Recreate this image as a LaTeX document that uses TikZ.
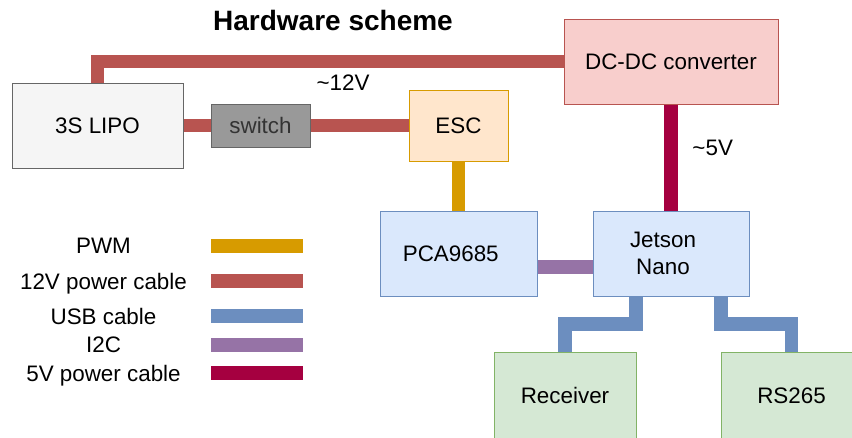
\documentclass[tikz,border=0pt]{standalone}
\usepackage{fontspec}
\setmainfont{Liberation Sans}
\usetikzlibrary{calc}
\definecolor{cRed}{HTML}{B85450}
\definecolor{cPWM}{HTML}{D79B00}
\definecolor{cUSB}{HTML}{6C8EBF}
\definecolor{cI2C}{HTML}{9673A6}
\definecolor{cFive}{HTML}{A50040}
\definecolor{fGray}{HTML}{F5F5F5}
\definecolor{bGray}{HTML}{666666}
\definecolor{fSwitch}{HTML}{999999}
\definecolor{tSwitch}{HTML}{333333}
\definecolor{fRed}{HTML}{F8CECC}
\definecolor{fOrange}{HTML}{FFE6CC}
\definecolor{fBlue}{HTML}{DAE8FC}
\definecolor{fGreen}{HTML}{D5E8D4}
\definecolor{bGreen}{HTML}{82B366}
\begin{document}
\begin{tikzpicture}[x=1pt,y=-1pt,
  box/.style={draw, line width=1pt, rectangle, inner sep=0pt, align=center,
    font=\fontsize{22.4}{27.5}\selectfont, text height=16pt, text depth=0pt},
  wire/.style={line width=13.5pt, line join=miter, line cap=butt},
  lbl/.style={anchor=base, inner sep=0pt, font=\fontsize{22.4}{28}\selectfont}
]
\useasboundingbox (0,0) rectangle (852,437);
\clip (0,0) rectangle (852,437);
\fill[white] (0,0) rectangle (852,437);

% title
\node[anchor=base, inner sep=0pt, font=\fontsize{28}{32}\selectfont\bfseries] (title) at (333,30.7) {Hardware scheme};

% boxes
\node[box, fill=fGray, draw=bGray, minimum width=171pt, minimum height=85pt] (lipo) at (97.5,125.5) {3S LIPO};
\node[box, fill=fSwitch, draw=bGray, text=tSwitch, minimum width=99pt, minimum height=43pt] (switch) at (260.5,125.5) {switch};
\node[box, fill=fOrange, draw=cPWM, minimum width=99pt, minimum height=71pt] (esc) at (458.5,125.5) {ESC};
\node[box, fill=fRed, draw=cRed, minimum width=214pt, minimum height=85pt] (dcdc) at (671,61.5) {DC-DC converter};
\node[box, fill=fBlue, draw=cUSB, minimum width=157pt, minimum height=85pt] (pca) at (458.5,253.5) {PCA9685\hspace*{15.5pt}};
\node[box, fill=fBlue, draw=cUSB, minimum width=156pt, minimum height=85pt, text height=, text depth=] (jetson) at (671,253.5) {Jetson\hspace*{16pt}\\Nano\hspace*{16pt}};
\node[box, fill=fGreen, draw=bGreen, minimum width=142pt, minimum height=86pt] (recv) at (565,395) {Receiver};
\node[box, fill=fGreen, draw=bGreen, minimum width=141pt, minimum height=86pt] (rs) at (791.5,395) {RS265};

% wires
\draw[wire, cRed] (lipo.east) -- (switch.west);
\draw[wire, cRed] (switch.east) -- (esc.west);
\draw[wire, cRed] (lipo.north) |- (dcdc.west);
\draw[wire, cPWM] (esc.south) -- (pca.north);
\draw[wire, cFive] (dcdc.south) -- (jetson.north);
\draw[wire, cI2C] ([yshift=-13.5pt]pca.east) -- ([yshift=-13.5pt]jetson.west);
\coordinate (u1) at (565,324);
\coordinate (u2) at (791.5,324);
\draw[wire, cUSB] ([xshift=-35pt]jetson.south) |- (u1) -- (recv.north);
\draw[wire, cUSB] ([xshift=50pt]jetson.south) |- (u2) -- (rs.north);

% voltage labels
\node[lbl] (v12) at (343,90.7) {\textasciitilde12V};
\node[lbl] (v5) at (712.7,155) {\textasciitilde5V};

% legend
\node[lbl] (lg1) at (103.5,253.3) {PWM};
\node[lbl] (lg2) at (103.5,289.3) {12V power cable};
\node[lbl] (lg3) at (103.5,324) {USB cable};
\node[lbl] (lg4) at (103.5,352.7) {I2C};
\node[lbl] (lg5) at (103.5,381.7) {5V power cable};
\draw[wire, cPWM] (211,246) -- (303,246);
\draw[wire, cRed] (211,281) -- (303,281);
\draw[wire, cUSB] (211,316) -- (303,316);
\draw[wire, cI2C] (211,345) -- (303,345);
\draw[wire, cFive] (211,373) -- (303,373);
\end{tikzpicture}
\end{document}
